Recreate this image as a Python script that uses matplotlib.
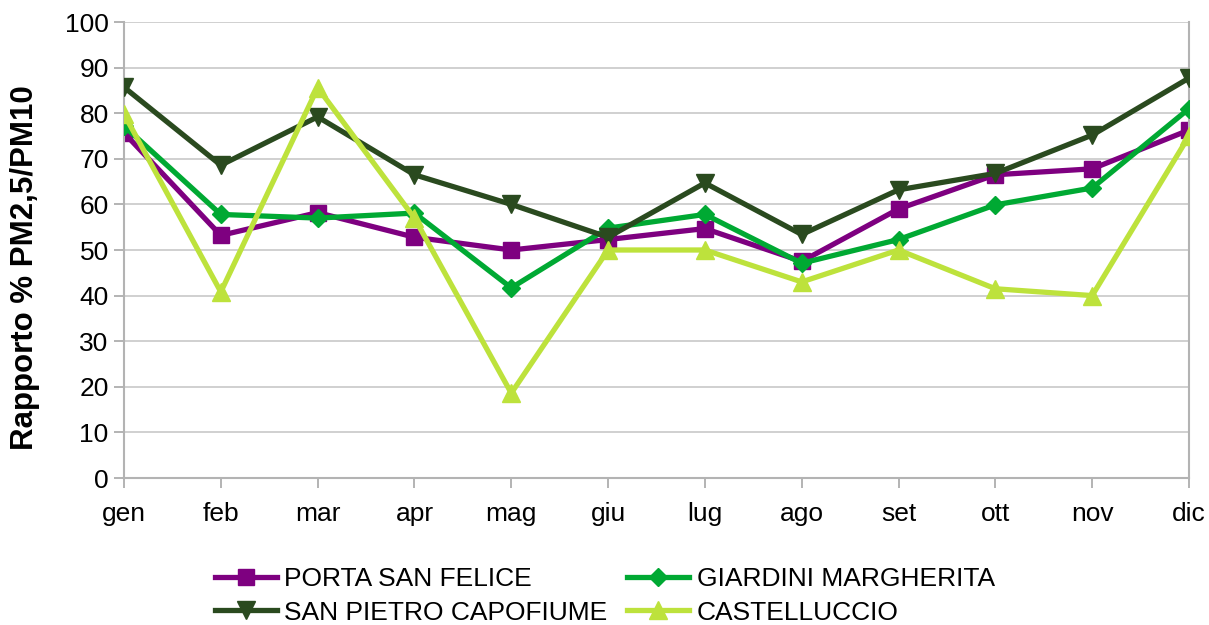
import matplotlib.pyplot as plt

plt.rcParams['font.family'] = ['Liberation Sans', 'DejaVu Sans']

months = ["gen", "feb", "mar", "apr", "mag", "giu", "lug", "ago", "set", "ott", "nov", "dic"]

porta_san_felice = [75.7, 53.2, 58.2, 52.8, 50.0, 52.3, 54.7, 47.5, 59.0, 66.5, 67.8, 76.3]
giardini_margherita = [77.2, 57.8, 57.0, 58.1, 41.7, 54.8, 57.8, 47.1, 52.3, 59.9, 63.6, 81.0]
san_pietro_capofiume = [85.7, 68.6, 79.2, 66.5, 60.0, 52.8, 64.7, 53.4, 63.2, 66.8, 75.2, 87.7]
castelluccio = [79.8, 40.8, 85.6, 57.0, 18.6, 50.0, 50.0, 43.0, 50.0, 41.5, 40.0, 75.0]

fig = plt.figure(figsize=(12.09, 6.25), dpi=100)
ax = fig.add_axes([124 / 1209, 1 - 478 / 625, (1189 - 124) / 1209, (478 - 22) / 625])

x = range(len(months))
lw = 3.8
l1, = ax.plot(x, porta_san_felice, color="#7e0080", lw=lw, marker="s", ms=12, label="PORTA SAN FELICE", zorder=2)
l2, = ax.plot(x, giardini_margherita, color="#00a933", lw=lw, marker="D", ms=9, label="GIARDINI MARGHERITA", zorder=3)
l3, = ax.plot(x, san_pietro_capofiume, color="#2a4a1f", lw=lw, marker="v", ms=13, label="SAN PIETRO CAPOFIUME", zorder=4)
l4, = ax.plot(x, castelluccio, color="#bde23c", lw=lw, marker="^", ms=13, label="CASTELLUCCIO", zorder=5)

ax.set_xlim(0, len(months) - 1)
ax.set_ylim(0, 100)
ax.set_yticks(range(0, 101, 10))
ax.set_xticks(list(x))
ax.set_xticklabels(months)
ax.tick_params(axis="both", labelsize=19, color="#b3b3b3", length=7, width=1.4)
ax.tick_params(axis="x", pad=10)
ax.tick_params(axis="y", pad=4)
ax.grid(axis="y", color="#c8c8c8", lw=1.2)
ax.set_axisbelow(True)
for side in ["left", "bottom", "right"]:
    ax.spines[side].set_color("#b3b3b3")
    ax.spines[side].set_linewidth(1.5)
ax.spines["top"].set_visible(False)

fig.text(25 / 1209, 1 - 268 / 625, "Rapporto % PM2,5/PM10", rotation=90, fontsize=22.5,
         fontweight="bold", ha="center", va="center")

fig.legend(handles=[l1, l3, l2, l4], loc="center", bbox_to_anchor=(605 / 1209, 1 - 596 / 625),
           ncol=2, frameon=False, fontsize=19, handlelength=2.35, columnspacing=0.75,
           handletextpad=0.27, labelspacing=0.35)

fig.savefig("out.png", dpi=100)
